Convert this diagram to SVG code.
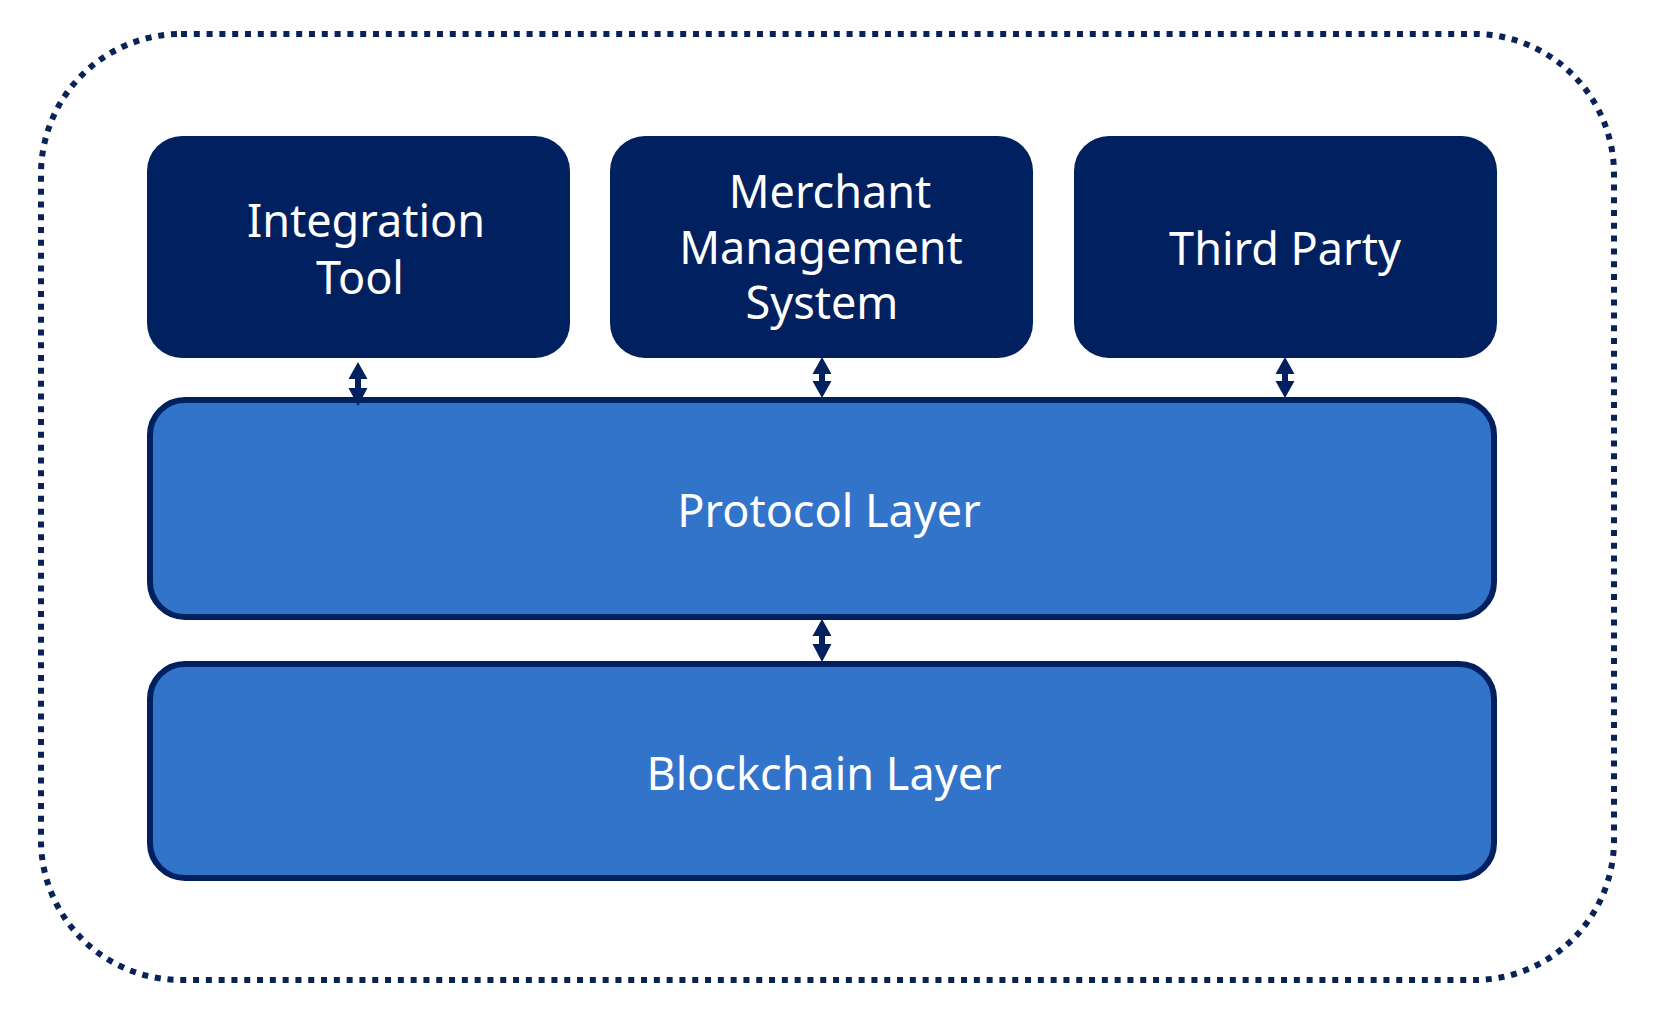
<svg xmlns="http://www.w3.org/2000/svg" width="1653" height="1012" viewBox="0 0 1653 1012">
<style>
.frame{fill:none;stroke:#0a2356;stroke-width:6;stroke-dasharray:6 6.8}
.top{fill:#002060}
.layer{fill:#3374cb;stroke:#002060;stroke-width:6}
.lbl{font-family:"Noto Sans","Open Sans","DejaVu Sans",sans-serif;font-size:45px;fill:#ffffff;text-anchor:middle}
.arr{fill:#002060}
</style>
<rect width="1653" height="1012" fill="#ffffff"/>
<rect class="frame" x="41" y="34" width="1573" height="946" rx="140" ry="140"/>
<g id="integration-tool">
<rect class="top" x="147" y="136" width="423" height="222" rx="35" ry="35"/>
<text class="lbl" x="366" y="237">Integration<tspan x="360" dy="57">Tool</tspan></text>
</g>
<g id="merchant-management-system">
<rect class="top" x="610" y="136" width="423" height="222" rx="35" ry="35"/>
<text class="lbl" x="830" y="208">Merchant<tspan x="821" dy="56">Management</tspan><tspan x="822" dy="55">System</tspan></text>
</g>
<g id="third-party">
<rect class="top" x="1074" y="136" width="423" height="222" rx="35" ry="35"/>
<text class="lbl" x="1285" y="265">Third Party</text>
</g>
<g id="protocol-layer">
<rect class="layer" x="150" y="400" width="1344" height="217" rx="35" ry="35"/>
<text class="lbl" x="829" y="527">Protocol Layer</text>
</g>
<g id="blockchain-layer">
<rect class="layer" x="150" y="664" width="1344" height="214" rx="35" ry="35"/>
<text class="lbl" x="824" y="790">Blockchain Layer</text>
</g>
<g id="connectors">
<path class="arr" d="M358,362 L367.5,379 L361,379 L361,388 L367.5,388 L358,406 L348.5,388 L355,388 L355,379 L348.5,379 Z"/>
<path class="arr" d="M822,357 L831.5,374 L825,374 L825,381 L831.5,381 L822,398 L812.5,381 L819,381 L819,374 L812.5,374 Z"/>
<path class="arr" d="M1285,357 L1294.5,374 L1288,374 L1288,381 L1294.5,381 L1285,398 L1275.5,381 L1282,381 L1282,374 L1275.5,374 Z"/>
<path class="arr" d="M822,619 L831.5,636 L825,636 L825,644 L831.5,644 L822,662 L812.5,644 L819,644 L819,636 L812.5,636 Z"/>
</g>
</svg>
